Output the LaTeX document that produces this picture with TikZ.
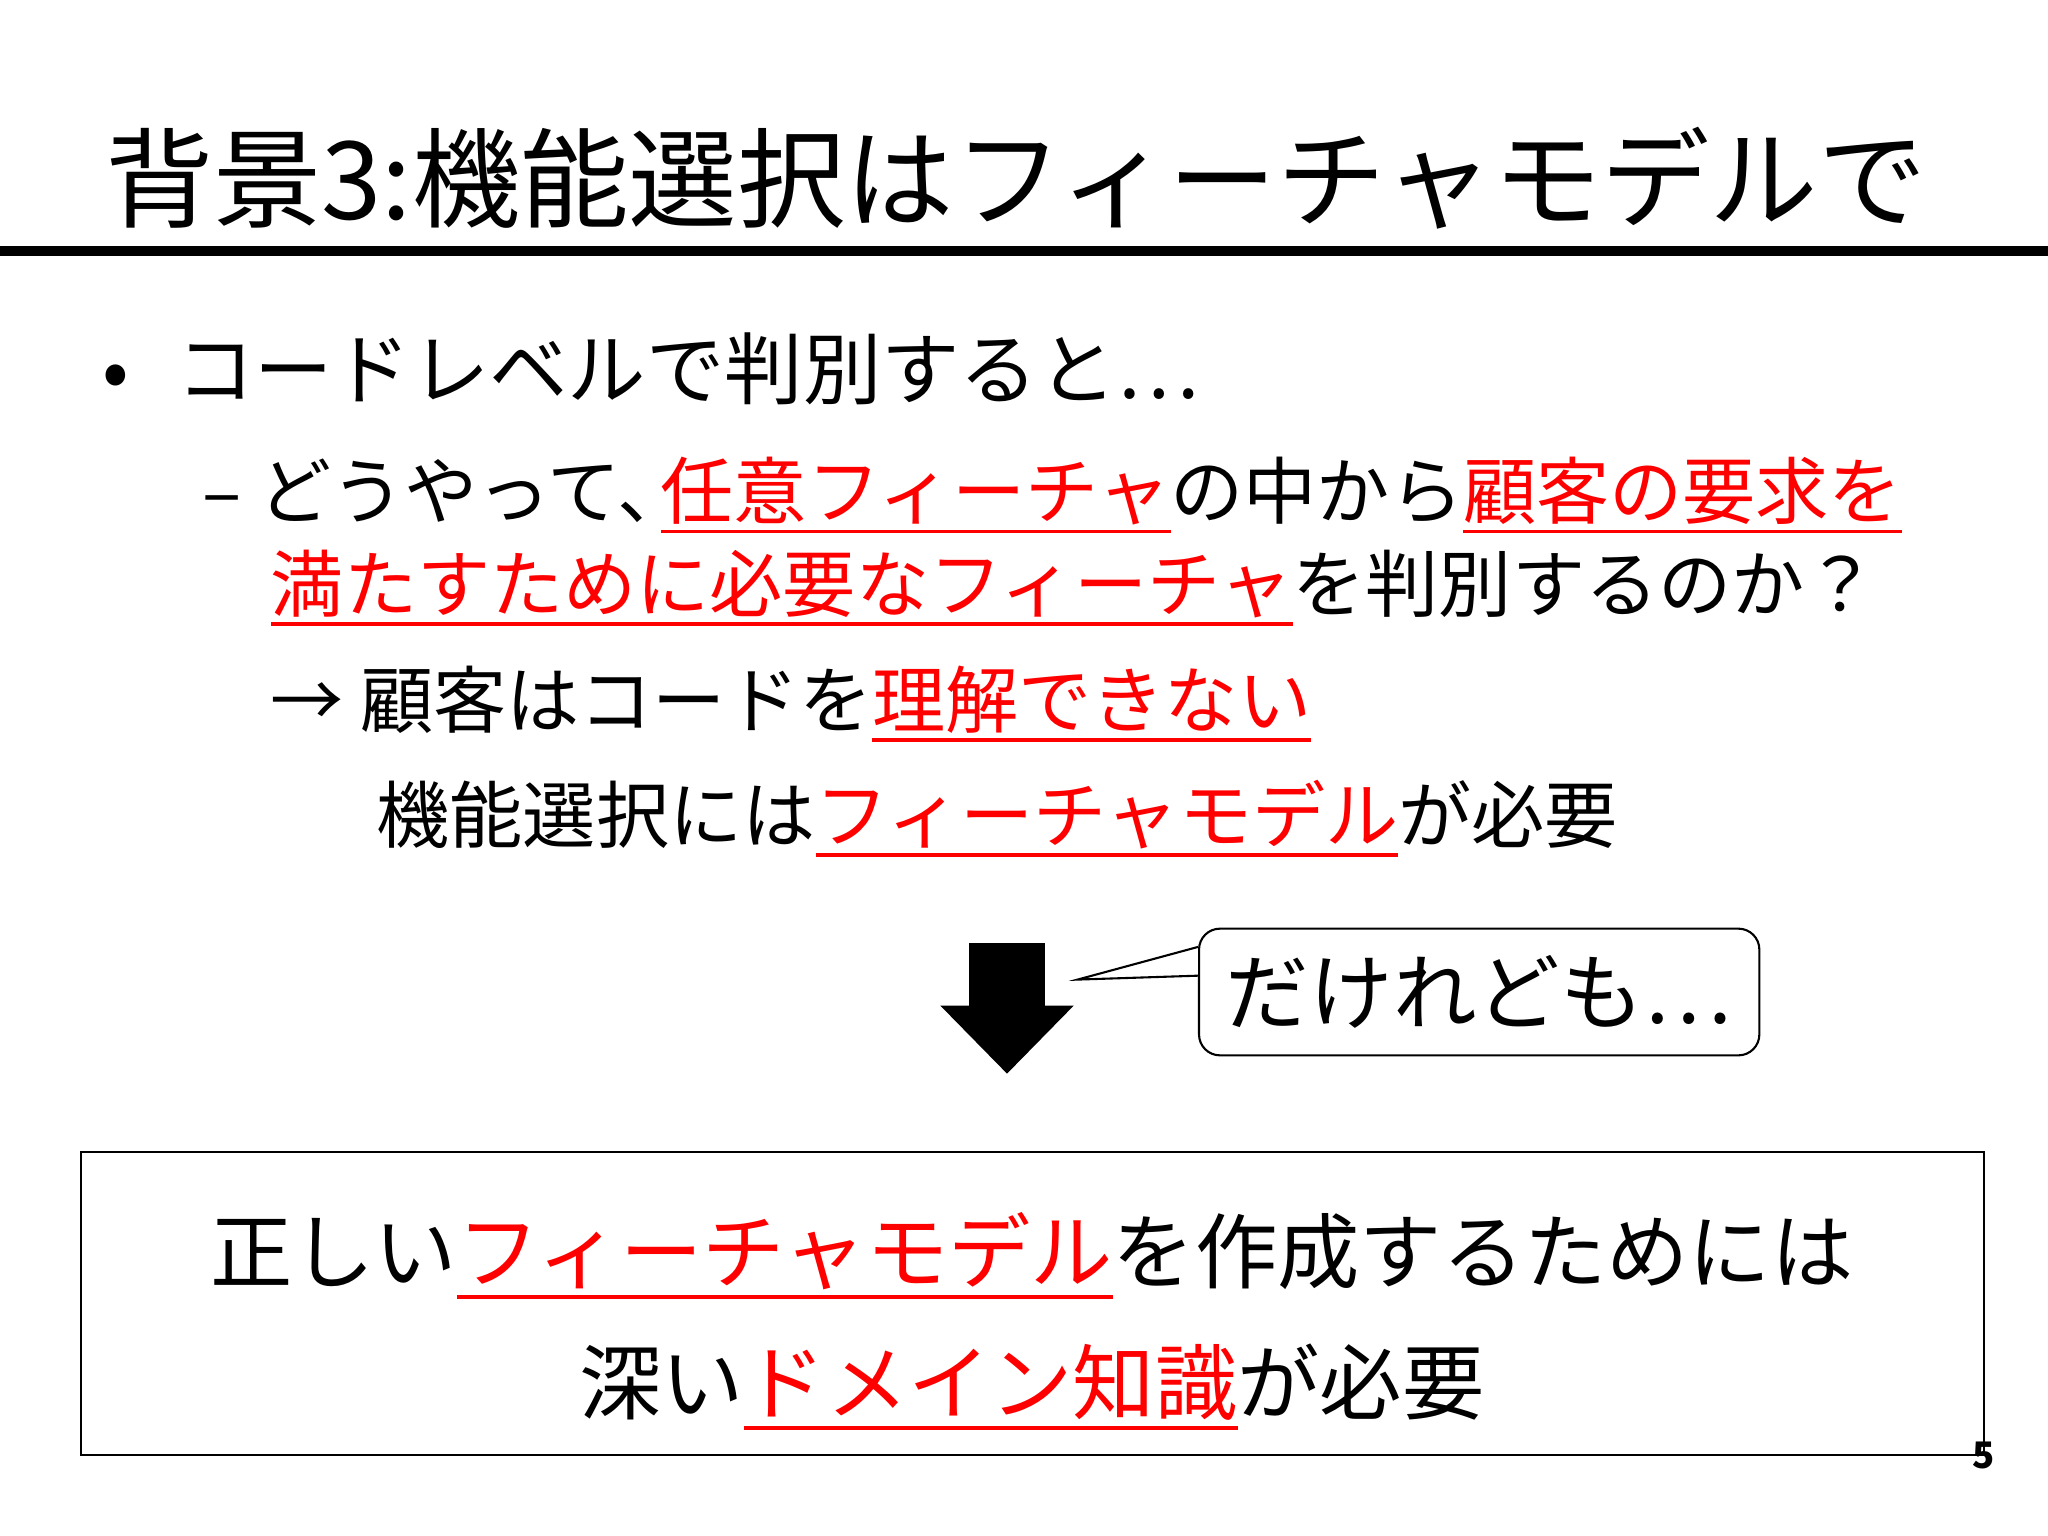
\documentclass[tikz,border=0pt]{standalone}
\usepackage{fontspec}
\setmainfont{Noto Sans CJK JP}
\newcommand\rul[1]{\textcolor{red}{\setbox0\hbox{#1}\rlap{\rule[-0.2em]{\wd0}{0.05em}}\box0}}
\begin{document}
\begin{tikzpicture}[x=0.5pt,y=-0.5pt]
\tikzset{line/.style={anchor=base west,inner sep=0pt,font=\fontsize{28}{30}\selectfont}}
\useasboundingbox[fill=white] (0,0) rectangle (1568,1176);
\node[anchor=base west,inner sep=0pt,font=\fontsize{41.5}{44}\selectfont] (title) at (80,168) {背景3:機能選択はフィーチャモデルで};
\draw[line width=4pt] (0,192) -- (1568,192);
\node[line,font=\fontsize{30}{32}\selectfont] (b1) at (78,305) {•\hspace{0.6em}コードレベルで判別すると…};
\node[line] (l2) at (155,397) {– どうやって、\hspace{-0.4em}\rul{任意フィーチャ}の中から\rul{顧客の要求を}};
\node[line] (l3) at (207,468) {\rul{満たすために必要なフィーチャ}を判別するのか？};
\node[line] (l4) at (207,557) {→ 顧客はコードを\rul{理解できない}};
\node[line] (l5) at (288,645) {機能選択には\rul{フィーチャモデル}が必要};
\fill (760,722) -- (800,722) -- (800,770) -- (822,770) -- (771,822) -- (720,770) -- (742,770) -- (742,722) -- cycle;
\node[draw,rounded corners=8pt,line width=0.8pt,minimum width=214.5pt,minimum height=48.5pt,inner sep=0pt,font=\fontsize{32}{34}\selectfont,fill=white] (co) at (1132.5,759.5) {だけれども…};
\coordinate (tip) at (825,750);
\draw[line width=0.8pt,fill=white] (co.west|-0,725) -- (tip) -- (co.west|-0,747);
\draw[line width=0.6pt] (62,882) rectangle (1519,1114);
\node[anchor=base,inner sep=0pt,font=\fontsize{31.5}{34}\selectfont] (m1) at (790,982) {正しい\rul{フィーチャモデル}を作成するためには};
\node[anchor=base,inner sep=0pt,font=\fontsize{31.5}{34}\selectfont] (m2) at (790,1082) {深い\rul{ドメイン知識}が必要};
\node[inner sep=0pt,font=\bfseries\fontsize{14}{16}\selectfont] (pg) at (1519,1114) {5};
\end{tikzpicture}
\end{document}
